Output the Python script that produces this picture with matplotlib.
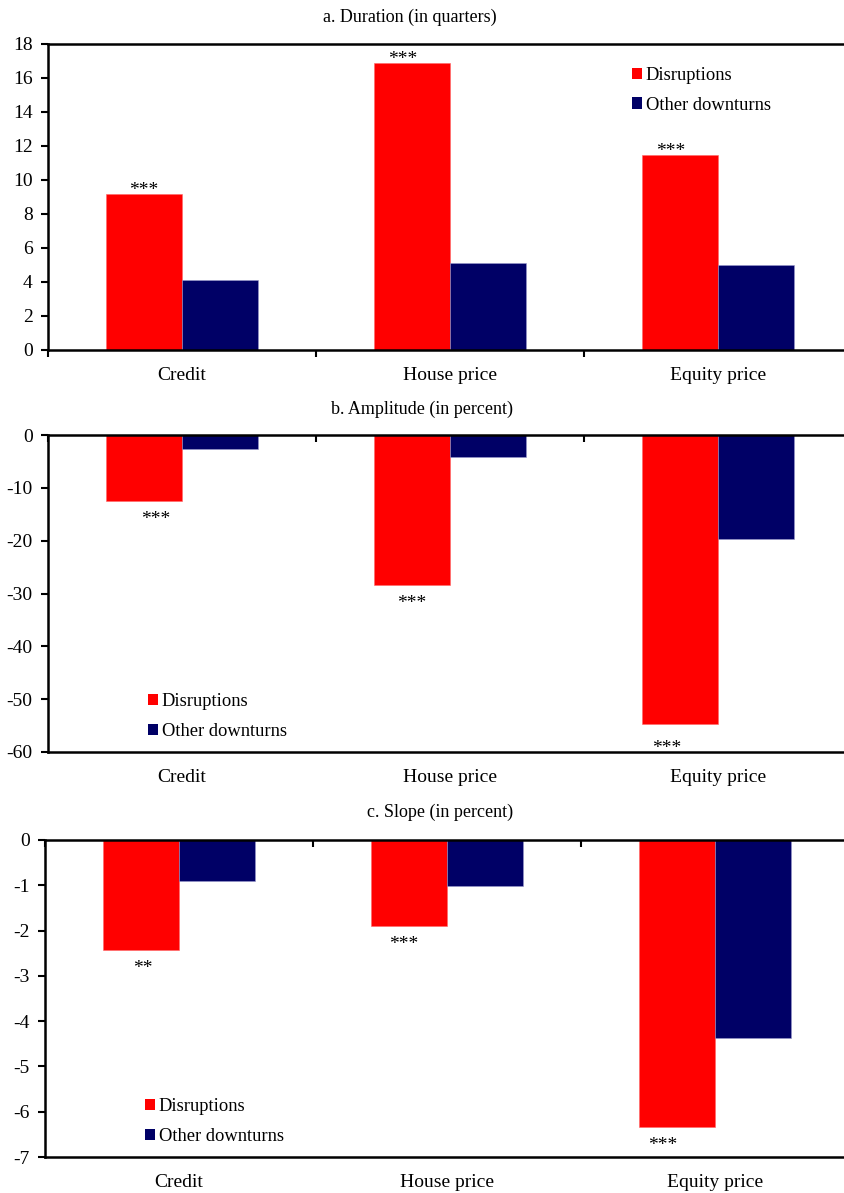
import numpy as np
import matplotlib.pyplot as plt
from matplotlib.patches import Patch
from matplotlib import rcParams

# ---------------- data ----------------
categories = ["Credit", "House price", "Equity price"]

duration_disr = [9.2, 16.9, 11.5]
duration_other = [4.1, 5.1, 5.0]
duration_sig = ["***", "***", "***"]

amplitude_disr = [-12.4, -28.4, -54.7]
amplitude_other = [-2.7, -4.2, -19.7]
amplitude_sig = ["***", "***", "***"]

slope_disr = [-2.42, -1.91, -6.34]
slope_other = [-0.9, -1.01, -4.37]
slope_sig = ["**", "***", "***"]

RED = "#FF0000"
NAVY = "#000066"

rcParams['font.family'] = ['Liberation Serif', 'DejaVu Serif']
rcParams['font.size'] = 14
rcParams['axes.unicode_minus'] = False

W, H = 844, 1193
fig = plt.figure(figsize=(W / 100, H / 100), dpi=100)


def px_axes(left, top, bottom, right=852):
    return fig.add_axes([left / W, 1 - bottom / H, (right - left) / W, (bottom - top) / H])


def draw_panel(ax, disr, other, sig, ylim, yticks, neg, legend_xy, star_nudge):
    x = np.arange(len(categories))
    bw = 0.2836
    ax.bar(x - bw / 2, disr, bw, color=RED, edgecolor="#FF6666", linewidth=0.4)
    ax.bar(x + bw / 2, other, bw, color=NAVY, edgecolor="#9999CC", linewidth=0.4)

    # significance stars on the disruption bars (nudges in pixels, like the excel labels)
    for xi, v, s, (dx, dy) in zip(x, disr, sig, star_nudge):
        if neg:
            ax.annotate(s, (xi - bw / 2, v), xytext=(dx * 0.72, (-10 - dy) * 0.72),
                        textcoords="offset points", ha="center", va="top", fontsize=14)
        else:
            ax.annotate(s, (xi - bw / 2, v), xytext=(dx * 0.72, (-5 - dy) * 0.72),
                        textcoords="offset points", ha="center", va="bottom", fontsize=14)

    ax.set_xlim(-0.5, 2.5)
    ax.set_ylim(*ylim)
    ax.set_yticks(yticks)
    ax.set_xticks(x)
    ax.set_xticklabels(categories)
    ax.set_xticks([-0.5, 0.5, 1.5, 2.5], minor=True)

    ax.tick_params(axis="y", direction="out", length=5, width=1.5, pad=6, labelsize=14)
    ax.tick_params(axis="x", which="major", length=0, pad=12, labelsize=14)
    if neg:
        ax.tick_params(axis="x", which="minor", top=True, bottom=False,
                       direction="in", length=5, width=1.5)
    else:
        ax.tick_params(axis="x", which="minor", bottom=True, direction="out",
                       length=5, width=1.5)

    for sp in ax.spines.values():
        sp.set_linewidth(1.8)

    handles = [Patch(facecolor=RED, edgecolor="none", label="Disruptions"),
               Patch(facecolor=NAVY, edgecolor="none", label="Other downturns")]
    ax.legend(handles=handles, loc="upper left", bbox_to_anchor=legend_xy,
              frameon=False, fontsize=13.3, handlelength=0.55, handleheight=0.55,
              handletextpad=0.2, labelspacing=0.68, borderpad=0, borderaxespad=0)


# a. Duration
ax1 = px_axes(48, 44, 350)
draw_panel(ax1, duration_disr, duration_other, duration_sig, (0, 18),
           np.arange(0, 19, 2), False, (0.726, 0.925),
           [(0, 0), (-9, 0), (-9, 0)])
fig.text(410 / W, 1 - 17 / H, "a. Duration (in quarters)", ha="center", va="center", fontsize=13)

# b. Amplitude
ax2 = px_axes(48, 435, 752)
draw_panel(ax2, amplitude_disr, amplitude_other, amplitude_sig, (-60, 0),
           np.arange(-60, 1, 10), True, (0.124, 0.185),
           [(12, 0), (0, 0), (-13, 6)])
fig.text(422 / W, 1 - 409 / H, "b. Amplitude (in percent)", ha="center", va="center", fontsize=13)

# c. Slope
ax3 = px_axes(45, 840, 1157, right=849)
draw_panel(ax3, slope_disr, slope_other, slope_sig, (-7, 0),
           np.arange(-7, 1, 1), True, (0.124, 0.185),
           [(2, 0), (-5, 0), (-14, 0)])
fig.text(440 / W, 1 - 812 / H, "c. Slope (in percent)", ha="center", va="center", fontsize=13)

fig.savefig("out.png", dpi=100)
